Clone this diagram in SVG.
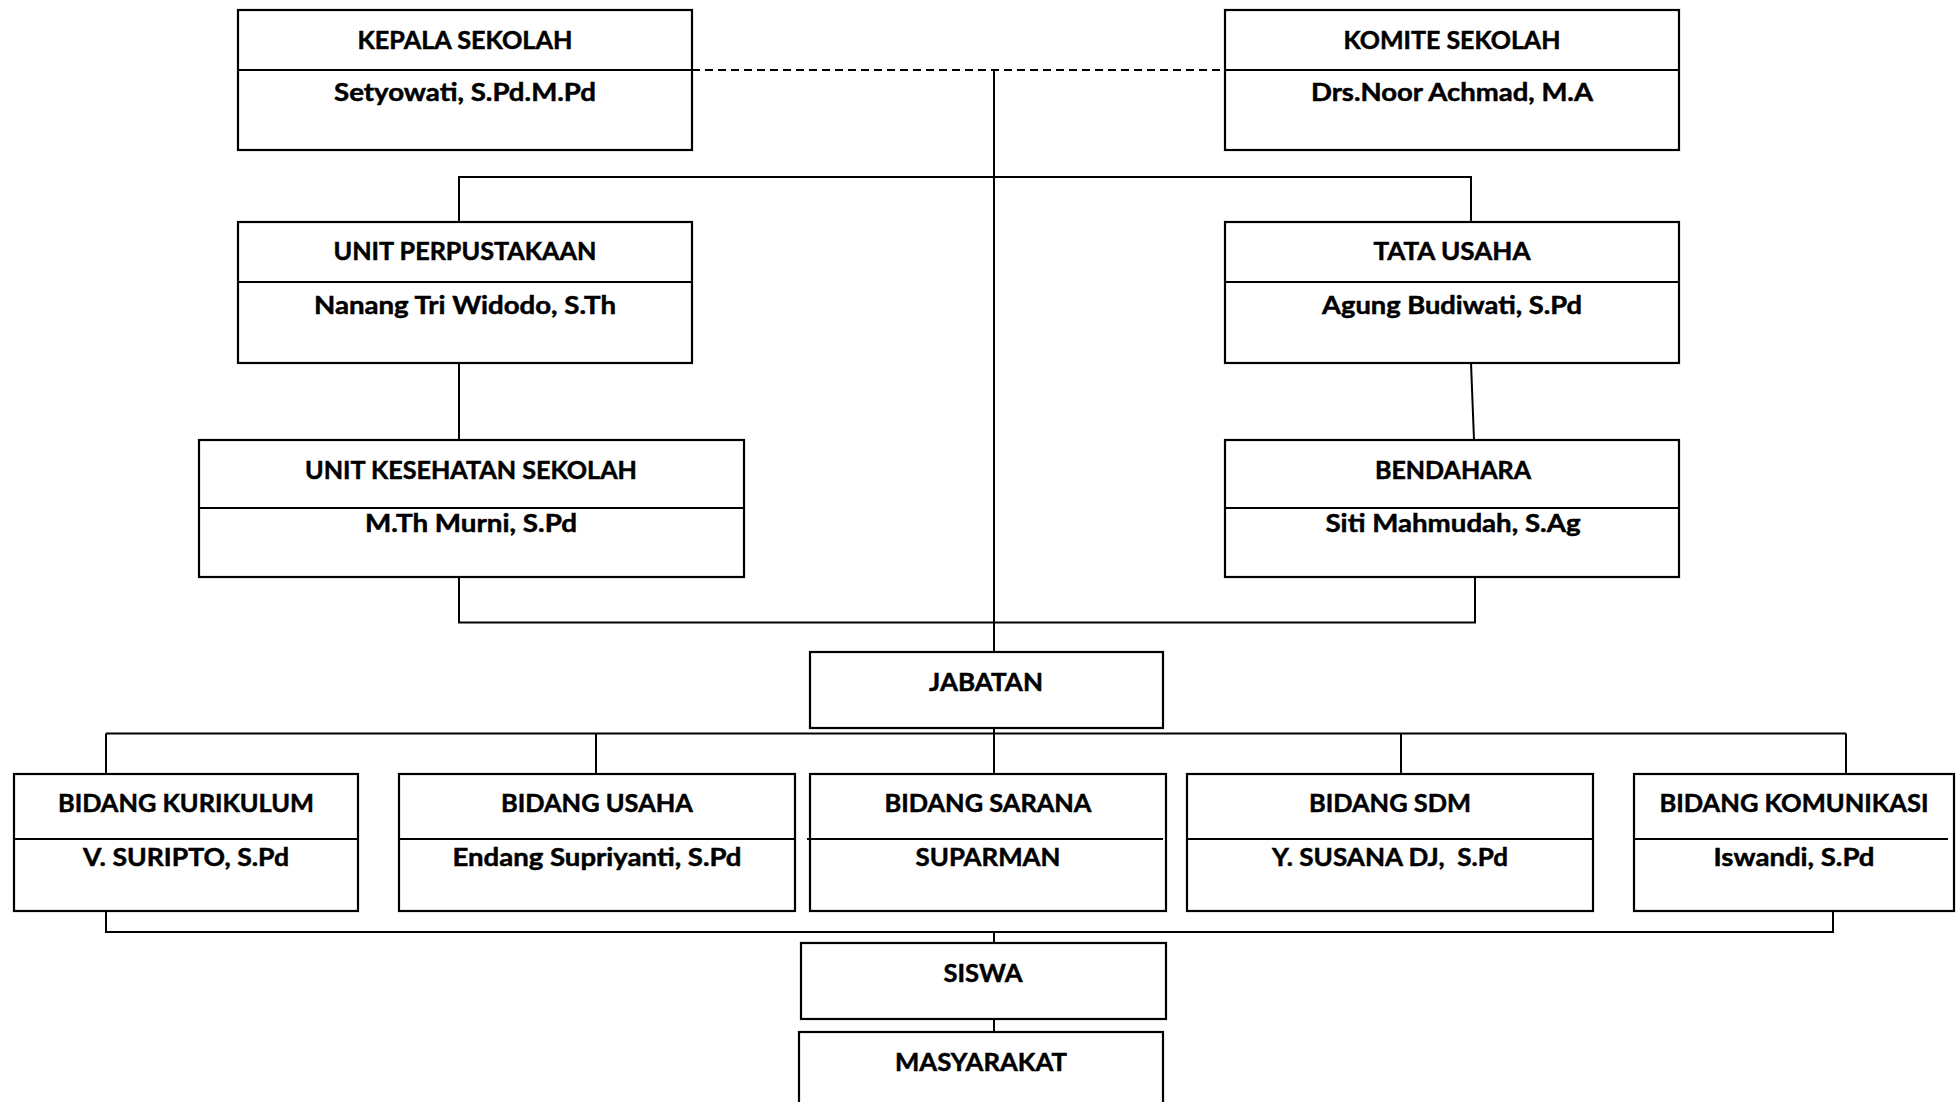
<svg xmlns="http://www.w3.org/2000/svg" width="1960" height="1102" viewBox="0 0 1960 1102">
<style>
.box{fill:#fff;stroke:#000;stroke-width:2.2}
.div{stroke:#000;stroke-width:2.2}
.ln{stroke:#000;stroke-width:2;fill:none}
.dash{stroke:#000;stroke-width:2;stroke-dasharray:8 5;fill:none}
text{font-family:"Lato","Open Sans",sans-serif;font-weight:bold;font-size:25.5px;text-anchor:middle;fill:#000;stroke:#000;stroke-width:0.5;white-space:pre}
</style>
<rect width="1960" height="1102" fill="#fff"/>
<g id="connectors">
<line class="dash" x1="692" y1="70" x2="1225" y2="70"/>
<line class="ln" x1="994" y1="71" x2="994" y2="652"/>
<polyline class="ln" points="459,222 459,177 1471,177 1471,222"/>
<line class="ln" x1="459" y1="363" x2="459" y2="440"/>
<line class="ln" x1="1471" y1="363" x2="1474" y2="440"/>
<polyline class="ln" points="459,577 459,622.5 1475,622.5 1475,577"/>
<line class="ln" x1="994" y1="728" x2="994" y2="774"/>
<line class="ln" x1="106" y1="733.5" x2="1846" y2="733.5"/>
<line class="ln" x1="106" y1="733.5" x2="106" y2="774"/>
<line class="ln" x1="596" y1="733.5" x2="596" y2="774"/>
<line class="ln" x1="1401" y1="733.5" x2="1401" y2="774"/>
<line class="ln" x1="1846" y1="733.5" x2="1846" y2="774"/>
<polyline class="ln" points="106,911 106,932 1833,932 1833,911"/>
<line class="ln" x1="994" y1="932" x2="994" y2="949"/>
<line class="ln" x1="994" y1="1016" x2="994" y2="1032"/>
</g>
<g id="kepala">
<rect class="box" x="238" y="10" width="454" height="140"/>
<line class="div" x1="238" y1="70" x2="692" y2="70"/>
<text x="465" y="49" textLength="215" lengthAdjust="spacingAndGlyphs">KEPALA SEKOLAH</text>
<text x="465" y="101" textLength="262" lengthAdjust="spacingAndGlyphs">Setyowati, S.Pd.M.Pd</text>
</g>
<g id="komite">
<rect class="box" x="1225" y="10" width="454" height="140"/>
<line class="div" x1="1225" y1="70" x2="1679" y2="70"/>
<text x="1452" y="49" textLength="217" lengthAdjust="spacingAndGlyphs">KOMITE SEKOLAH</text>
<text x="1452" y="101" textLength="282" lengthAdjust="spacingAndGlyphs">Drs.Noor Achmad, M.A</text>
</g>
<g id="perpustakaan">
<rect class="box" x="238" y="222" width="454" height="141"/>
<line class="div" x1="238" y1="282" x2="692" y2="282"/>
<text x="465" y="260" textLength="263" lengthAdjust="spacingAndGlyphs">UNIT PERPUSTAKAAN</text>
<text x="465" y="314" textLength="302" lengthAdjust="spacingAndGlyphs">Nanang Tri Widodo, S.Th</text>
</g>
<g id="tatausaha">
<rect class="box" x="1225" y="222" width="454" height="141"/>
<line class="div" x1="1225" y1="282" x2="1679" y2="282"/>
<text x="1452" y="260" textLength="157" lengthAdjust="spacingAndGlyphs">TATA USAHA</text>
<text x="1452" y="314" textLength="260" lengthAdjust="spacingAndGlyphs">Agung Budiwati, S.Pd</text>
</g>
<g id="uks">
<rect class="box" x="199" y="440" width="545" height="137"/>
<line class="div" x1="199" y1="508" x2="744" y2="508"/>
<text x="471" y="479" textLength="332" lengthAdjust="spacingAndGlyphs">UNIT KESEHATAN SEKOLAH</text>
<text x="471" y="532" textLength="212" lengthAdjust="spacingAndGlyphs">M.Th Murni, S.Pd</text>
</g>
<g id="bendahara">
<rect class="box" x="1225" y="440" width="454" height="137"/>
<line class="div" x1="1225" y1="508" x2="1679" y2="508"/>
<text x="1453" y="479" textLength="156" lengthAdjust="spacingAndGlyphs">BENDAHARA</text>
<text x="1453" y="532" textLength="255" lengthAdjust="spacingAndGlyphs">Siti Mahmudah, S.Ag</text>
</g>
<g id="jabatan">
<rect class="box" x="810" y="652" width="353" height="76"/>
<text x="986" y="691" textLength="114" lengthAdjust="spacingAndGlyphs">JABATAN</text>
</g>
<g id="kurikulum">
<rect class="box" x="14" y="774" width="344" height="137"/>
<line class="div" x1="14" y1="839" x2="358" y2="839"/>
<text x="186" y="812" textLength="256" lengthAdjust="spacingAndGlyphs">BIDANG KURIKULUM</text>
<text x="186" y="866" textLength="206" lengthAdjust="spacingAndGlyphs">V. SURIPTO, S.Pd</text>
</g>
<g id="usaha">
<rect class="box" x="399" y="774" width="396" height="137"/>
<line class="div" x1="399" y1="839" x2="795" y2="839"/>
<text x="597" y="812" textLength="192" lengthAdjust="spacingAndGlyphs">BIDANG USAHA</text>
<text x="597" y="866" textLength="289" lengthAdjust="spacingAndGlyphs">Endang Supriyanti, S.Pd</text>
</g>
<g id="sarana">
<rect class="box" x="810" y="774" width="356" height="137"/>
<line class="div" x1="807" y1="839" x2="1163" y2="839"/>
<text x="988" y="812" textLength="207" lengthAdjust="spacingAndGlyphs">BIDANG SARANA</text>
<text x="988" y="866" textLength="145" lengthAdjust="spacingAndGlyphs">SUPARMAN</text>
</g>
<g id="sdm">
<rect class="box" x="1187" y="774" width="406" height="137"/>
<line class="div" x1="1187" y1="839" x2="1593" y2="839"/>
<text x="1390" y="812" textLength="162" lengthAdjust="spacingAndGlyphs">BIDANG SDM</text>
<text x="1390" y="866" textLength="236" lengthAdjust="spacingAndGlyphs">Y. SUSANA DJ,  S.Pd</text>
</g>
<g id="komunikasi">
<rect class="box" x="1634" y="774" width="320" height="137"/>
<line class="div" x1="1634" y1="839" x2="1948" y2="839"/>
<text x="1794" y="812" textLength="269" lengthAdjust="spacingAndGlyphs">BIDANG KOMUNIKASI</text>
<text x="1794" y="866" textLength="161" lengthAdjust="spacingAndGlyphs">Iswandi, S.Pd</text>
</g>
<g id="siswa">
<rect class="box" x="801" y="943" width="365" height="76"/>
<text x="983" y="982" textLength="79" lengthAdjust="spacingAndGlyphs">SISWA</text>
</g>
<g id="masyarakat">
<rect class="box" x="799" y="1032" width="364" height="80"/>
<text x="981" y="1071" textLength="172" lengthAdjust="spacingAndGlyphs">MASYARAKAT</text>
</g>
</svg>
